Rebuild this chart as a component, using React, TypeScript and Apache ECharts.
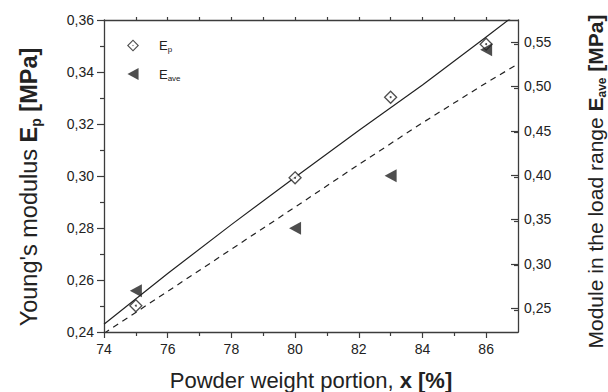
import { useEffect, useRef } from 'react';
import * as echarts from 'echarts';

// ---- data ----
const xTicks = [74, 76, 78, 80, 82, 84, 86];
const topTicks = [75, 76, 77, 78, 79, 80, 81, 82, 83, 84, 85, 86];
const leftTicks = [0.24, 0.26, 0.28, 0.3, 0.32, 0.34, 0.36];
const rightTicks = [0.25, 0.3, 0.35, 0.4, 0.45, 0.5, 0.55];

const powder = [75, 80, 83, 86];
const youngEp = [0.2501, 0.2993, 0.3303, 0.3507];
const moduleEave = [0.2695, 0.34, 0.3994, 0.5413];

const fitX = [74, 76, 78, 80, 82, 84, 86, 87];
const epFit = [0.243, 0.2625, 0.2813, 0.2995, 0.3175, 0.335, 0.3535, 0.3628];
const eaveFit = [0.2214, 0.2689, 0.3164, 0.3639, 0.412, 0.459, 0.504, 0.5255];

const FONT = '"Liberation Sans", Arial, Helvetica, sans-serif';
const INK = '#222';
const AXIS = '#3c3c3c';

const ringPath =
  'path://M6,0 L12,6 L6,12 L0,6 Z M6,1.6 L1.6,6 L6,10.4 L10.4,6 Z M6,5.3 L6.7,6 L6,6.7 L5.3,6 Z';
const triPath = 'path://M0,6.5 L12,0 L12,13 Z';

const comma = (v: number) => v.toFixed(2).replace('.', ',');

function titleRich(size: number) {
  return {
    n: { fontSize: size, fontFamily: FONT, color: INK, lineHeight: size + 5 },
    b: { fontSize: size, fontFamily: FONT, color: INK, fontWeight: 'bold', lineHeight: size + 5 },
    s: { fontSize: Math.round(size * 0.58), fontFamily: FONT, color: INK, fontWeight: 'bold', verticalAlign: 'bottom', lineHeight: 12 },
  };
}

export default function App() {
  const ref = useRef<HTMLDivElement>(null);
  useEffect(() => {
    if (!ref.current) return;
    const chart = echarts.init(ref.current, null, { renderer: 'svg' });
    const axisLine = { show: true, lineStyle: { color: AXIS, width: 1.3 } };
    chart.setOption({
      animation: false,
      backgroundColor: '#fff',
      grid: { left: 104, right: 90, top: 20, bottom: 60, containLabel: false, outerBoundsMode: 'none' },
      legend: {
        orient: 'vertical',
        left: 127,
        top: 39,
        padding: 0,
        itemWidth: 12,
        itemHeight: 12,
        itemGap: 14,
        data: [
          { name: 'Ep', icon: ringPath, itemStyle: { color: INK, borderWidth: 0 }, textStyle: { color: INK } },
          { name: 'Eave', icon: triPath, itemStyle: { color: INK, borderWidth: 0 }, textStyle: { color: INK } },
        ],
        formatter: (name: string) => (name === 'Ep' ? '{e|E}{s|p}' : '{e|E}{s|ave}'),
        textStyle: {
          color: INK,
          rich: {
            e: { fontSize: 13, fontFamily: FONT, color: INK, lineHeight: 16, padding: [0, 0, 0, 15] },
            s: { fontSize: 8, fontFamily: FONT, color: INK, verticalAlign: 'bottom', lineHeight: 8 },
          },
        },
      },
      xAxis: [
        {
          type: 'value',
          position: 'bottom',
          min: 74,
          max: 87,
          interval: 2,
          splitLine: { show: false },
          axisLine,
          axisTick: { show: true, inside: false, length: 6, lineStyle: { color: AXIS, width: 1.2 }, customValues: xTicks },
          minorTick: { show: true, splitNumber: 2, length: 4, lineStyle: { color: AXIS, width: 1.2 } },
          axisLabel: { margin: 10, fontSize: 14, fontFamily: FONT, color: INK, customValues: xTicks },
          name: '{n|Powder weight portion, }{b|x [%]}',
          nameLocation: 'middle',
          nameGap: 35,
          nameTextStyle: { rich: titleRich(22) },
        },
        {
          type: 'value',
          position: 'top',
          min: 74,
          max: 87,
          interval: 1,
          splitLine: { show: false },
          axisLine,
          axisTick: { show: true, inside: false, length: 3, lineStyle: { color: AXIS, width: 1.2 }, customValues: topTicks },
          axisLabel: { show: false },
        },
      ],
      yAxis: [
        {
          type: 'value',
          position: 'left',
          min: 0.24,
          max: 0.36,
          interval: 0.02,
          splitLine: { show: false },
          axisLine,
          axisTick: { show: true, inside: false, length: 7, lineStyle: { color: AXIS, width: 1.2 }, customValues: leftTicks },
          minorTick: { show: true, splitNumber: 2, length: 4, lineStyle: { color: AXIS, width: 1.2 } },
          axisLabel: { margin: 10, fontSize: 14, fontFamily: FONT, color: INK, formatter: comma, customValues: leftTicks },
          name: "{n|Young's modulus }{b|E}{s|p}{b| [MPa]}",
          nameLocation: 'middle',
          nameRotate: 90,
          nameGap: 61,
          nameTextStyle: { rich: titleRich(23.5), padding: [0, 22, 0, 0] },
        },
        {
          type: 'value',
          position: 'right',
          min: 0.223,
          max: 0.575,
          interval: 0.05,
          splitLine: { show: false },
          axisLine,
          axisTick: { show: true, inside: true, length: 7, lineStyle: { color: AXIS, width: 1.2 }, customValues: rightTicks },
          minorTick: { show: true, splitNumber: 2, length: 4, lineStyle: { color: AXIS, width: 1.2 } },
          axisLabel: { margin: 6, fontSize: 14, fontFamily: FONT, color: INK, formatter: comma, customValues: rightTicks },
          name: '{n|Module in the load range }{b|E}{s|ave}{b| [MPa]}',
          nameLocation: 'middle',
          nameRotate: 90,
          nameGap: 64,
          nameTextStyle: { rich: titleRich(21), padding: [0, 11, 0, 0] },
        },
      ],
      series: [
        {
          name: 'EpFit',
          type: 'line',
          xAxisIndex: 0,
          yAxisIndex: 0,
          data: fitX.map((x, i) => [x, epFit[i]]),
          showSymbol: false,
          lineStyle: { color: INK, width: 1.2, type: 'solid' },
          z: 2,
        },
        {
          name: 'EaveFit',
          type: 'line',
          xAxisIndex: 0,
          yAxisIndex: 1,
          data: fitX.map((x, i) => [x, eaveFit[i]]),
          showSymbol: false,
          lineStyle: { color: INK, width: 1.2, type: [6, 5] },
          z: 2,
        },
        {
          name: 'Ep',
          type: 'scatter',
          xAxisIndex: 0,
          yAxisIndex: 0,
          data: powder.map((x, i) => [x, youngEp[i]]),
          symbol: 'diamond',
          symbolSize: 12,
          itemStyle: { color: '#fff', borderColor: INK, borderWidth: 1.3 },
          z: 4,
        },
        {
          name: 'EpDot',
          type: 'scatter',
          xAxisIndex: 0,
          yAxisIndex: 0,
          data: powder.map((x, i) => [x, youngEp[i]]),
          symbol: 'circle',
          symbolSize: 2,
          itemStyle: { color: INK },
          z: 5,
        },
        {
          name: 'Eave',
          type: 'scatter',
          xAxisIndex: 0,
          yAxisIndex: 1,
          data: powder.map((x, i) => [x, moduleEave[i]]),
          symbol: triPath,
          symbolSize: [12, 13],
          itemStyle: { color: INK },
          z: 4,
        },
      ],
    });
    return () => chart.dispose();
  }, []);
  return <div ref={ref} style={{ width: 608, height: 392, position: 'absolute', left: 0, top: 0 }} />;
}
